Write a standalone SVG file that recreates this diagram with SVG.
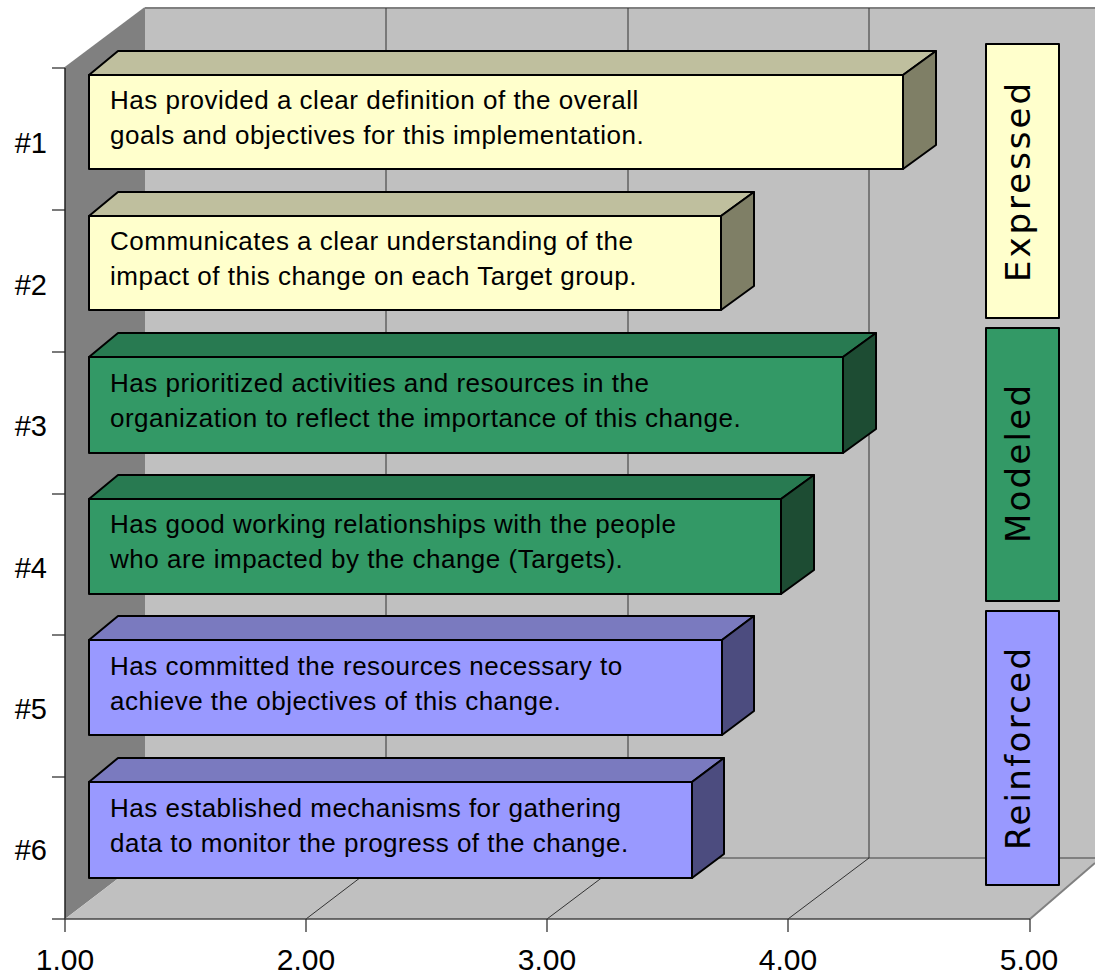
<svg xmlns="http://www.w3.org/2000/svg" width="1095" height="977" viewBox="0 0 1095 977">
<style>
.lbl{font-family:"Liberation Sans",Arial,sans-serif;fill:#000}
.axis{font-size:29px}
.xax{font-size:30px}
.bt{font-size:26px;letter-spacing:0.5px}
.lg{font-family:"DejaVu Sans","Liberation Sans",sans-serif;font-size:34px}
.edge{stroke:#000;stroke-width:2;stroke-linejoin:round}
.yf{fill:#FFFFCC}.yt{fill:#BFBF9E}.ys{fill:#7F7F66}
.gf{fill:#339966}.gt{fill:#287A51}.gs{fill:#1D4C33}
.bf{fill:#9999FF}.btp{fill:#7A7ABF}.bs{fill:#4C4C7F}
.grid{stroke:#333;stroke-width:1;fill:none}
</style>
<rect width="1095" height="977" fill="#FFFFFF"/>
<g id="chart-frame">
<rect x="145" y="8" width="950" height="850" fill="#C0C0C0"/>
<polygon points="65,68 145,8 145,858 65,919" fill="#808080"/>
<polygon points="65,919 145,858 1095,858 1095,863 1030,919" fill="#C0C0C0"/>
<line x1="145" y1="8" x2="1095" y2="8" stroke="#808080" stroke-width="2"/>
<line x1="65" y1="68" x2="145" y2="8" stroke="#808080" stroke-width="2"/>
<line x1="145" y1="858" x2="1095" y2="858" stroke="#808080" stroke-width="2"/>
<line x1="1030" y1="919" x2="1095" y2="863" stroke="#808080" stroke-width="2"/>
<line x1="386" y1="8" x2="386" y2="858" class="grid"/>
<line x1="628" y1="8" x2="628" y2="858" class="grid"/>
<line x1="869" y1="8" x2="869" y2="858" class="grid"/>
<line x1="306" y1="919" x2="386" y2="858" class="grid"/>
<line x1="547" y1="919" x2="628" y2="858" class="grid"/>
<line x1="788" y1="919" x2="869" y2="858" class="grid"/>
<line x1="65" y1="68" x2="65" y2="919" stroke="#222" stroke-width="1.5"/>
<line x1="65" y1="919" x2="1030" y2="919" stroke="#444" stroke-width="1.5"/>
<g stroke="#222" stroke-width="1.2">
<line x1="52" y1="68" x2="65" y2="68"/><line x1="52" y1="210" x2="65" y2="210"/>
<line x1="52" y1="352" x2="65" y2="352"/><line x1="52" y1="494" x2="65" y2="494"/>
<line x1="52" y1="635" x2="65" y2="635"/><line x1="52" y1="777" x2="65" y2="777"/>
<line x1="52" y1="919" x2="65" y2="919"/>
<line x1="65" y1="919" x2="65" y2="932"/><line x1="306" y1="919" x2="306" y2="932"/>
<line x1="547" y1="919" x2="547" y2="932"/><line x1="788" y1="919" x2="788" y2="932"/>
<line x1="1030" y1="919" x2="1030" y2="932"/>
</g>
<g class="lbl axis" text-anchor="end">
<text x="47" y="153">#1</text><text x="47" y="295">#2</text><text x="47" y="436">#3</text>
<text x="47" y="578">#4</text><text x="47" y="719">#5</text><text x="47" y="860">#6</text>
</g>
<g class="lbl xax" text-anchor="middle">
<text x="65" y="970">1.00</text><text x="306" y="970">2.00</text><text x="547" y="970">3.00</text>
<text x="788" y="970">4.00</text><text x="1029" y="970">5.00</text>
</g>
</g>
<g id="bar1">
<polygon class="yt edge" points="89,75 118,51 936,51 903,75"/>
<polygon class="ys edge" points="903,75 936,51 936,145 903,169"/>
<rect class="yf edge" x="89" y="75" width="814" height="94"/>
<text class="lbl bt" x="110" y="109">Has provided a clear definition of the overall</text>
<text class="lbl bt" x="110" y="144">goals and objectives for this implementation.</text>
</g>
<g id="bar2">
<polygon class="yt edge" points="89,216 118,192 754,192 721,216"/>
<polygon class="ys edge" points="721,216 754,192 754,286 721,310"/>
<rect class="yf edge" x="89" y="216" width="632" height="94"/>
<text class="lbl bt" x="110" y="250">Communicates a clear understanding of the</text>
<text class="lbl bt" x="110" y="285">impact of this change on each Target group.</text>
</g>
<g id="bar3">
<polygon class="gt edge" points="89,357 118,333 876,333 843,357"/>
<polygon class="gs edge" points="843,357 876,333 876,429 843,453"/>
<rect class="gf edge" x="89" y="357" width="754" height="96"/>
<text class="lbl bt" x="110" y="392">Has prioritized activities and resources in the</text>
<text class="lbl bt" x="110" y="427">organization to reflect the importance of this change.</text>
</g>
<g id="bar4">
<polygon class="gt edge" points="89,499 118,475 814,475 781,499"/>
<polygon class="gs edge" points="781,499 814,475 814,570 781,594"/>
<rect class="gf edge" x="89" y="499" width="692" height="95"/>
<text class="lbl bt" x="110" y="533">Has good working relationships with the people</text>
<text class="lbl bt" x="110" y="568">who are impacted by the change (Targets).</text>
</g>
<g id="bar5">
<polygon class="btp edge" points="89,640 118,616 754,616 722,640"/>
<polygon class="bs edge" points="722,640 754,616 754,711 722,735"/>
<rect class="bf edge" x="89" y="640" width="633" height="95"/>
<text class="lbl bt" x="110" y="675">Has committed the resources necessary to</text>
<text class="lbl bt" x="110" y="710">achieve the objectives of this change.</text>
</g>
<g id="bar6">
<polygon class="btp edge" points="89,782 118,758 724,758 692,782"/>
<polygon class="bs edge" points="692,782 724,758 724,854 692,878"/>
<rect class="bf edge" x="89" y="782" width="603" height="96"/>
<text class="lbl bt" x="110" y="817">Has established mechanisms for gathering</text>
<text class="lbl bt" x="110" y="852">data to monitor the progress of the change.</text>
</g>
<g id="legend-expressed">
<rect class="yf edge" x="986" y="44" width="73" height="274"/>
<text class="lg" transform="translate(1030,282) rotate(-90)" textLength="199" lengthAdjust="spacing">Expressed</text>
</g>
<g id="legend-modeled">
<rect class="gf edge" x="986" y="328" width="73" height="273"/>
<text class="lg" transform="translate(1030,543) rotate(-90)" textLength="158" lengthAdjust="spacing">Modeled</text>
</g>
<g id="legend-reinforced">
<rect class="bf edge" x="986" y="611" width="73" height="274"/>
<text class="lg" transform="translate(1030,850) rotate(-90)" textLength="202" lengthAdjust="spacing">Reinforced</text>
</g>
<g id="connectors"></g>
</svg>
